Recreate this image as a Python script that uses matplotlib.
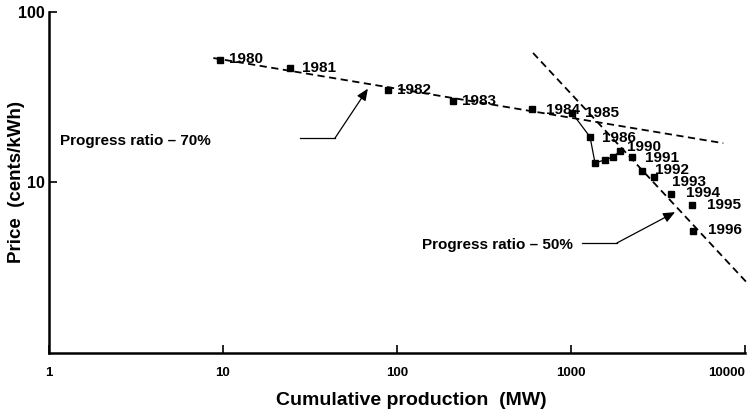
import matplotlib.pyplot as plt
from matplotlib.ticker import FixedLocator, NullLocator

plt.rcParams['font.family'] = ['Liberation Sans', 'DejaVu Sans']

# PV module price against cumulative production
years = [1980, 1981, 1982, 1983, 1984, 1985, 1986, 1987, 1988, 1989,
         1990, 1991, 1992, 1993, 1994, 1995, 1996]
cumulative_mw = [9.6, 24.3, 88.8, 210, 597, 1013, 1286, 1374, 1568, 1742,
                 1913, 2243, 2559, 3000, 3757, 4958, 5028]
price_cents = [52.3, 46.9, 34.9, 30.1, 27.0, 25.6, 18.5, 13.0, 13.6, 14.1,
               15.3, 14.1, 11.7, 10.8, 8.57, 7.38, 5.2]
labelled_years = [1980, 1981, 1982, 1983, 1984, 1985, 1986,
                  1990, 1991, 1992, 1993, 1994, 1995, 1996]

# experience curves
fit70_mw = [8.8, 7500]
fit70_price = [53.7, 17.0]
fit50_mw = [605, 10200]
fit50_price = [57.5, 2.6]

x_ticks = [1, 10, 100, 1000, 10000]
y_ticks = [10, 100]

# label offsets in pixels (dx, dy)
label_offsets = {
    1980: (9, 1), 1981: (12, 0), 1982: (9, 0), 1983: (9, 0),
    1984: (14, -1), 1985: (13, 0), 1986: (12, -1), 1990: (7, 4),
    1991: (13, -1), 1992: (13, 1), 1993: (18, -5), 1994: (15, 1),
    1995: (15, 0), 1996: (15, 1),
}

fig = plt.figure(figsize=(7.49, 4.13), dpi=100)
ax = fig.add_axes([0.0654, 0.1453, 0.9293, 0.8257])
ax.set_xscale('log')
ax.set_yscale('log')
ax.set_xlim(1, 10000)
ax.set_ylim(1, 100)

dash = (0, (4, 2.5))
ax.plot(fit70_mw, fit70_price, color='black', lw=1.3, linestyle=dash)
ax.plot(fit50_mw, fit50_price, color='black', lw=1.3, linestyle=dash,
        clip_on=False)

# thin line through the 1985-1990 points
ax.plot(cumulative_mw[5:11], price_cents[5:11], color='black', lw=0.9)
ax.plot(cumulative_mw, price_cents, linestyle='none', marker='s',
        markersize=4.5, color='black')

for yr, xv, yv in zip(years, cumulative_mw, price_cents):
    if yr in labelled_years:
        dx, dy = label_offsets[yr]
        ax.annotate(str(yr), (xv, yv), xytext=(dx, dy),
                    textcoords='offset pixels', ha='left', va='center',
                    fontsize=11, fontweight='bold')

# callouts
ax.text(1.16, 17.6, 'Progress ratio \u2013 70%', fontsize=11,
        fontweight='bold', va='center', ha='left')
ax.plot([27.7, 44], [18.2, 18.2], color='black', lw=0.9)
ax.annotate('', xy=(68, 35.5), xytext=(44, 18.2),
            arrowprops=dict(arrowstyle='-|>,head_length=0.7,head_width=0.3',
                            color='black', lw=0.9, shrinkA=0, shrinkB=0))

ax.text(139, 4.3, 'Progress ratio \u2013 50%', fontsize=11,
        fontweight='bold', va='center', ha='left')
ax.plot([1157, 1837], [4.42, 4.42], color='black', lw=0.9)
ax.annotate('', xy=(3962, 6.7), xytext=(1837, 4.42),
            arrowprops=dict(arrowstyle='-|>,head_length=0.7,head_width=0.3',
                            color='black', lw=0.9, shrinkA=0, shrinkB=0))

for side in ['top', 'right']:
    ax.spines[side].set_visible(False)
for side in ['left', 'bottom']:
    ax.spines[side].set_linewidth(1.8)

ax.xaxis.set_major_locator(FixedLocator(x_ticks))
ax.yaxis.set_major_locator(FixedLocator(y_ticks))
ax.xaxis.set_minor_locator(NullLocator())
ax.yaxis.set_minor_locator(NullLocator())
ax.set_xticklabels([str(v) for v in x_ticks], fontsize=9.5, fontweight='bold')
ax.get_xticklabels()[-1].set_horizontalalignment('right')
ax.set_yticklabels([str(v) for v in y_ticks], fontsize=11.5, fontweight='bold')
ax.tick_params(axis='both', direction='in', length=6, width=1.2)
ax.tick_params(axis='x', pad=10)
ax.tick_params(axis='y', pad=3)

ax.set_xlabel('Cumulative production  (MW)', fontsize=14, fontweight='bold')
ax.set_ylabel('Price  (cents/kWh)', fontsize=13.5, fontweight='bold')
ax.xaxis.set_label_coords(0.52, -0.115)
ax.yaxis.set_label_coords(-0.034, 0.5)

fig.savefig('out.png', dpi=100)
